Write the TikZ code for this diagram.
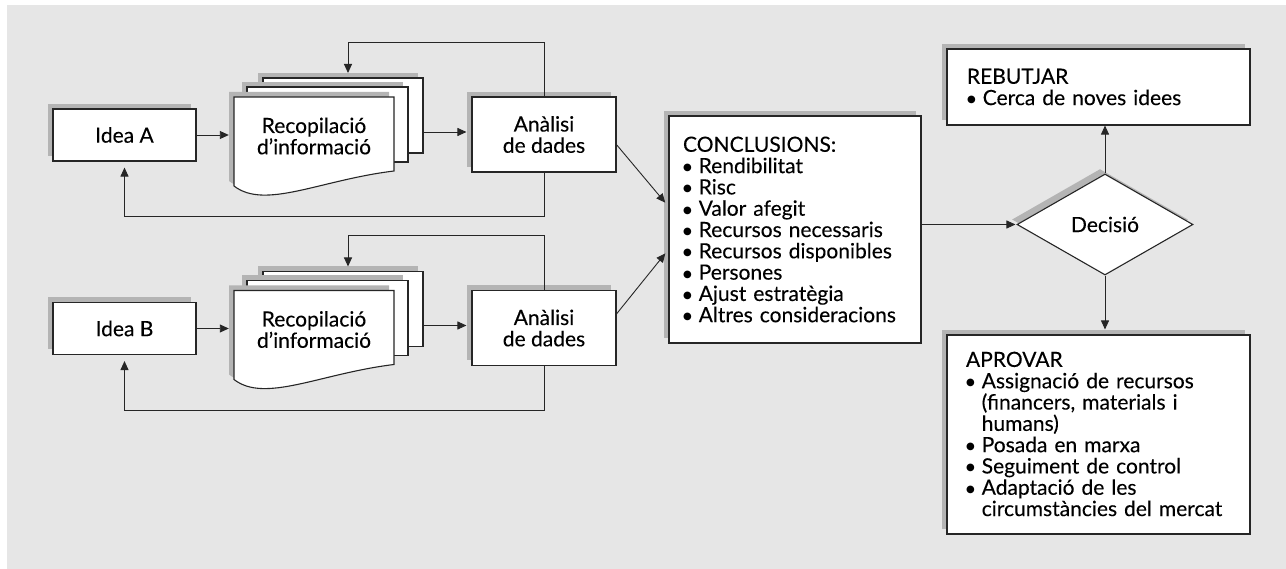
\documentclass[tikz,border=0pt]{standalone}
\usepackage{fontspec}
\setmainfont{Lato}[UprightFeatures={FakeBold=0.15}]
\newfontfamily\puntfont{DejaVu Sans}
\usetikzlibrary{arrows.meta,shapes.geometric,shadows,calc}
\definecolor{fons}{RGB}{230,230,230}
\definecolor{ombra}{RGB}{180,180,180}
\newcommand\lletra{\fontsize{21pt}{21.3pt}\selectfont}
\newcommand\punt{{\puntfont\fontsize{10pt}{0pt}\selectfont\raisebox{2.6pt}{●}}\ }
\newcommand\sagnat{\phantom{\puntfont\fontsize{10pt}{0pt}\selectfont●}\ }
\tikzset{
  ombrejat/.style={drop shadow={shadow xshift=-5pt,shadow yshift=5pt,fill=ombra,opacity=1}},
  caixa/.style={draw=black!85,line width=1.1pt,fill=white,inner sep=0pt,ombrejat},
  full/.style={draw=black!85,line width=1.1pt,fill=white},
  arr/.style={-{Triangle[length=9pt,width=8pt]},line width=0.9pt,draw=black!85},
}
\begin{document}
\begin{tikzpicture}[x=1pt,y=-1pt,font=\lletra]
\useasboundingbox (0,0) rectangle (1286,569);
\fill[fons] (7,5) rectangle (1286,569);
\foreach \fila/\dy in {A/0,B/193.5}{
	% pila de documents
	\fill[ombra] (258,73+\dy) rectangle (418,148+\dy);
	\draw[full] (263,78+\dy) rectangle (423,153+\dy);
	\fill[ombra] (242,82+\dy) rectangle (403,157+\dy);
	\draw[full] (247,87+\dy) rectangle (408,162+\dy);
	\fill[ombra,shift={(-5,-5)}] (234,97+\dy) -- (394,97+\dy) -- (394,171+\dy)
		.. controls (320,180+\dy) and (265,210+\dy) .. (234,186+\dy) -- cycle;
	\draw[full] (234,97+\dy) -- (394,97+\dy) -- (394,171+\dy)
		.. controls (320,180+\dy) and (265,210+\dy) .. (234,186+\dy) -- cycle;
	\node[caixa,minimum width=143pt,minimum height=52pt] (idea\fila) at (124.5,135+\dy) {Idea \fila};
	\node[align=center,inner sep=0pt,minimum width=160pt] (doc\fila) at (314,136+\dy) {Recopilació\\d’informació};
	\coordinate (pila\fila) at (423,132+\dy);
	\node[caixa,align=center,minimum width=144pt,minimum height=75pt] (ana\fila) at (544,134.5+\dy) {Anàlisi\\de dades};
	\draw[arr,shorten >=5pt] (idea\fila.east) -- (idea\fila.east -| doc\fila.west);
	\draw[arr,shorten >=5pt] (pila\fila) -- (pila\fila -| ana\fila.west);
	\draw[arr,shorten >=5pt] (ana\fila.north) -- ++(0,-54) -| (348,78+\dy);
	\draw[arr,shorten >=6pt] (ana\fila.south) -- ++(0,44) -| (idea\fila.south);
}
\node[caixa,align=left,inner xsep=14pt,text width=224pt,minimum height=227pt] (concl) at (795,229.5)
	{CONCLUSIONS:\\ \punt Rendibilitat\\ \punt Risc\\ \punt Valor afegit\\ \punt Recursos necessaris\\
	 \punt Recursos disponibles\\ \punt Persones\\ \punt Ajust estratègia\\ \punt Altres consideracions};
\node[diamond,aspect=1.74,draw=black!85,line width=1.1pt,fill=white,inner sep=0pt,
	minimum width=176pt,minimum height=101pt,ombrejat] (dec) at (1105,224.5) {Decisió};
\node[caixa,align=left,inner xsep=20pt,text width=263pt,minimum height=76pt] (rebut) at (1098.5,87)
	{REBUTJAR\\ \punt Cerca de noves idees};
\node[caixa,align=left,inner xsep=19pt,text width=265pt,minimum height=199pt] (aprov) at (1098.5,434.5)
	{APROVAR\\ \punt Assignació de recursos\\ \sagnat(financers, materials i\\ \sagnat humans)\\
	 \punt Posada en marxa\\ \punt Seguiment de control\\ \punt Adaptació de les\\ \sagnat circumstàncies del mercat};
\draw[arr,shorten >=5pt] (anaA.-8) -- ($(concl.west)+(0,-23)$);
\draw[arr,shorten >=5pt] (anaB.11) -- ($(concl.west)+(0,20)$);
\draw[arr,shorten >=1pt] (concl.east |- dec.west) -- (dec.west);
\draw[arr] (dec.north) -- (dec.north |- rebut.south);
\draw[arr,shorten >=5pt] (dec.south) -- (dec.south |- aprov.north);
\end{tikzpicture}
\end{document}
